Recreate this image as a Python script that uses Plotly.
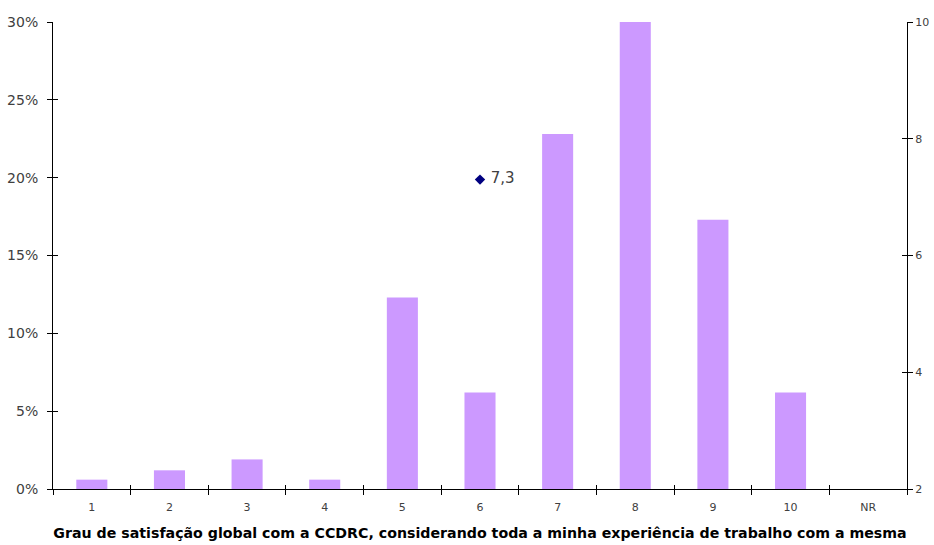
import plotly.graph_objects as go

# Satisfaction scores (1-10 and no answer) and share of respondents, in %
categories = ["1", "2", "3", "4", "5", "6", "7", "8", "9", "10", "NR"]
pct = [0.6, 1.2, 1.9, 0.6, 12.3, 6.2, 22.8, 30.2, 17.3, 6.2, 0.0]

# Mean satisfaction score, plotted on the right axis
mean_pos = "6"
mean_score = 7.3
mean_label = " 7,3"

title = "Grau de satisfação global com a CCDRC, considerando toda a minha experiência de trabalho com a mesma"

font = "DejaVu Sans"
grey = "#404040"
n = len(categories)
boundaries = [i + 0.5 for i in range(-1, n)]

fig = go.Figure()
fig.add_trace(go.Bar(
    x=categories, y=pct, width=0.4,
    marker=dict(color="#CC99FF", line=dict(width=0)),
    xaxis="x", yaxis="y", showlegend=False,
))
fig.add_trace(go.Scatter(
    x=[mean_pos], y=[mean_score], mode="markers+text",
    text=[mean_label], textposition="middle right",
    textfont=dict(family=font, size=15, color=grey),
    marker=dict(symbol="diamond", size=8, color="#000080"),
    xaxis="x", yaxis="y2", showlegend=False,
))
# empty traces so the helper axes (inner half of the cross ticks) get drawn
for xa, ya in [("x2", "y"), ("x", "y3"), ("x", "y4")]:
    fig.add_trace(go.Scatter(x=[None], y=[None], xaxis=xa, yaxis=ya,
                             mode="markers", showlegend=False, hoverinfo="skip"))

fig.update_layout(
    width=934, height=545,
    margin=dict(l=53, r=27, t=22, b=56, autoexpand=False),
    plot_bgcolor="white", paper_bgcolor="white",
    xaxis=dict(
        type="category", categoryarray=categories, range=[-0.5, n - 0.5],
        showline=True, linecolor="black", linewidth=1, automargin=False,
        ticks="outside", tickson="boundaries", ticklen=5, tickcolor="black",
        showgrid=False, zeroline=False, ticklabelstandoff=8,
        tickfont=dict(family=font, size=11, color=grey),
        title=dict(text="<b>" + title + "</b>", standoff=14,
                   font=dict(family=font, size=14.2, color="black")),
    ),
    xaxis2=dict(
        overlaying="x", anchor="y", range=[-0.5, n - 0.5], automargin=False,
        tickvals=boundaries, ticks="inside", ticklen=4, tickcolor="black",
        showticklabels=False, showgrid=False, zeroline=False, showline=False,
    ),
    yaxis=dict(
        range=[0, 30], dtick=5, ticksuffix="%", automargin=False,
        showline=True, linecolor="black", linewidth=1,
        ticks="outside", ticklen=5, tickcolor="black",
        showgrid=False, zeroline=False, ticklabelstandoff=6,
        tickfont=dict(family=font, size=14, color=grey),
    ),
    yaxis3=dict(
        overlaying="y", side="left", anchor="x", range=[0, 30], dtick=5,
        ticks="inside", ticklen=5, tickcolor="black", automargin=False,
        showticklabels=False, showgrid=False, zeroline=False, showline=False,
    ),
    yaxis2=dict(
        overlaying="y", side="right", anchor="x", range=[2, 10], dtick=2,
        showline=True, linecolor="black", linewidth=1, automargin=False,
        ticks="outside", ticklen=5, tickcolor="black",
        showgrid=False, zeroline=False,
        tickfont=dict(family=font, size=11, color=grey),
    ),
    yaxis4=dict(
        overlaying="y", side="right", anchor="x", range=[2, 10], dtick=2,
        ticks="inside", ticklen=5, tickcolor="black", automargin=False,
        showticklabels=False, showgrid=False, zeroline=False, showline=False,
    ),
)

fig.write_html("out.html")
